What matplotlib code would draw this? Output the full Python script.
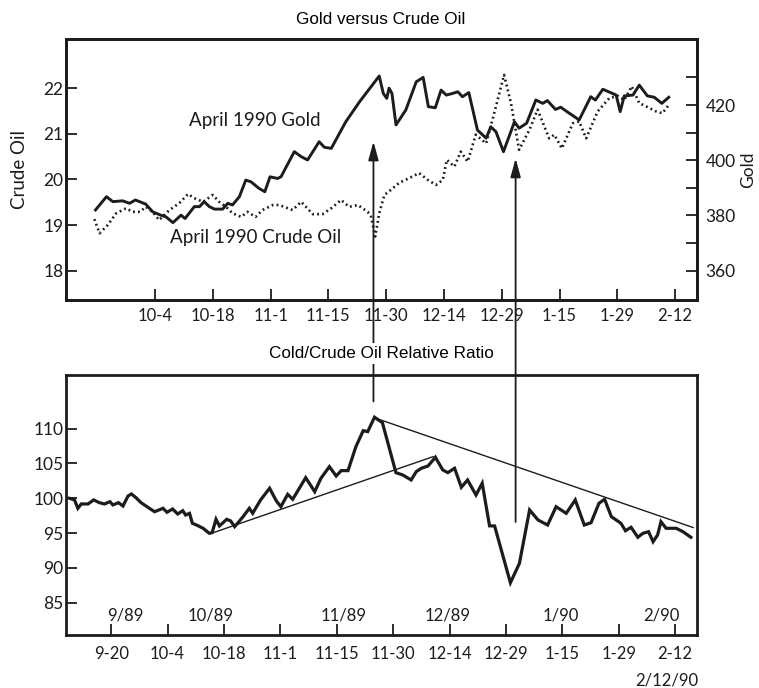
import matplotlib
matplotlib.use("Agg")
import matplotlib.pyplot as plt
from matplotlib.patches import ConnectionPatch, ArrowStyle
from matplotlib.transforms import blended_transform_factory

# ---------------- data (x in trading-day units, tick every 10 days) ----------------
top_tick_pos = [10, 20, 30, 40, 50, 60, 70, 80, 90, 100]
top_tick_labels = ["10-4", "10-18", "11-1", "11-15", "11-30", "12-14", "12-29", "1-15", "1-29", "2-12"]

bot_tick_pos = [0, 10, 20, 30, 40, 50, 60, 70, 80, 90, 100]
bot_tick_labels = ["9-20", "10-4", "10-18", "11-1", "11-15", "11-30", "12-14", "12-29", "1-15", "1-29", "2-12"]

month_label_x = [2.5, 17.7, 41.3, 59.7, 79.8, 97.5]
month_labels = ["9/89", "10/89", "11/89", "12/89", "1/90", "2/90"]

crude_ticks = [18, 19, 20, 21, 22]
gold_major_ticks = [360, 380, 400, 420]
gold_minor_ticks = [370, 390, 410, 430]
ratio_ticks = [85, 90, 95, 100, 105, 110]

gold_x = [-0.3, 1.6, 2.7, 4.4, 5.6, 6.6, 8.4, 9.6, 11.0, 11.9, 13.1, 14.5, 15.2, 16.8, 17.7,
          18.5, 19.4, 20.3, 21.7, 22.6, 23.4, 24.6, 25.7, 26.6, 28.0, 29.0, 29.9, 31.2, 31.8,
          34.1, 35.3, 36.4, 38.4, 39.3, 40.5, 43.0, 45.4, 48.8, 49.5, 50.1, 50.5, 51.0, 51.7,
          53.4, 55.2, 56.4, 57.3, 58.5, 59.5, 60.4, 61.5, 62.4, 63.2, 64.3, 65.8, 67.3, 68.1,
          69.0, 70.3, 72.2, 73.0, 74.3, 75.9, 77.1, 77.9, 79.3, 80.2, 81.7, 83.4, 85.4, 86.2,
          87.5, 89.8, 90.5, 91.2, 92.7, 93.8, 95.2, 96.4, 97.7, 98.9]
gold = [382.0, 386.8, 385.0, 385.3, 384.4, 385.6, 384.1, 381.3, 380.1, 379.5, 377.4, 380.1, 378.9,
        383.2, 383.2, 385.0, 383.2, 382.3, 382.3, 384.4, 383.8, 386.8, 392.8, 392.2, 389.8, 388.6,
        394.0, 393.4, 394.0, 403.1, 401.3, 400.1, 406.7, 404.7, 404.3, 413.9, 421.2, 430.5, 424.2,
        422.4, 426.1, 424.2, 412.8, 418.2, 428.4, 430.0, 419.4, 419.0, 425.4, 423.6, 424.2, 424.8,
        423.0, 424.5, 410.9, 408.0, 412.1, 410.3, 403.1, 413.9, 411.6, 413.4, 421.8, 420.6, 421.6,
        418.4, 419.2, 417.0, 414.6, 423.0, 421.8, 425.7, 423.6, 417.6, 423.3, 423.6, 427.2, 423.3,
        422.8, 420.6, 422.8]

crude_x = [-0.5, 0.4, 1.8, 3.3, 5.0, 6.1, 7.4, 8.4, 9.6, 10.7, 12.5, 14.2, 15.7, 16.8, 18.3,
           20.0, 21.1, 22.3, 23.4, 24.9, 26.0, 27.4, 28.6, 30.4, 31.5, 33.8, 35.3, 37.3, 39.0,
           40.5, 42.2, 43.6, 45.1, 46.8, 47.4, 48.1, 48.8, 49.7, 50.8, 52.3, 54.0, 55.7, 57.2,
           58.6, 59.8, 60.5, 61.8, 62.9, 64.1, 65.5, 67.3, 69.0, 70.4, 71.6, 73.0, 74.8, 76.2,
           78.2, 79.1, 80.4, 82.3, 83.4, 84.6, 86.6, 88.6, 90.1, 91.2, 92.5, 93.8, 95.0, 96.7,
           97.8, 98.9]
crude = [19.13, 18.82, 19.00, 19.26, 19.37, 19.29, 19.29, 19.40, 19.29, 19.11, 19.33, 19.48, 19.68,
         19.59, 19.51, 19.66, 19.51, 19.40, 19.26, 19.18, 19.29, 19.18, 19.33, 19.44, 19.44, 19.33,
         19.51, 19.24, 19.24, 19.37, 19.55, 19.40, 19.44, 19.29, 19.18, 18.75, 19.26, 19.66, 19.77,
         19.93, 20.03, 20.14, 19.99, 19.88, 19.99, 20.43, 20.28, 20.61, 20.39, 20.98, 20.79, 21.60,
         22.29, 21.67, 20.65, 21.09, 21.53, 20.90, 20.98, 20.68, 21.23, 21.27, 20.90, 21.49, 21.78,
         21.83, 21.74, 22.04, 21.67, 21.60, 21.49, 21.45, 21.63]

ratio_x = [-7.4, -6.5, -5.9, -5.3, -4.1, -3.1, -2.1, -1.2, -0.2, 0.3, 1.3, 2.1, 3.0, 3.6, 4.4,
           5.3, 6.5, 7.7, 9.2, 9.9, 10.9, 11.8, 12.7, 13.2, 13.9, 14.4, 15.4, 16.3, 17.4, 17.9,
           18.6, 19.2, 20.5, 21.2, 21.9, 23.4, 24.5, 25.1, 26.5, 28.1, 29.3, 30.1, 31.3, 32.2,
           34.5, 36.1, 37.2, 38.7, 39.9, 40.8, 42.0, 43.4, 44.7, 45.5, 46.7, 48.1, 50.5, 51.7,
           53.2, 54.1, 55.0, 56.2, 57.5, 58.8, 59.7, 60.9, 62.1, 63.2, 64.7, 65.8, 67.1, 68.0,
           70.8, 72.4, 74.2, 75.7, 77.4, 78.9, 80.7, 82.3, 83.9, 85.1, 86.5, 87.5, 88.7, 90.4,
           91.2, 92.2, 93.4, 94.3, 95.3, 96.1, 96.9, 97.5, 98.4, 100.2, 101.4, 102.8]
ratio = [100.0, 99.76, 98.56, 99.18, 99.18, 99.76, 99.37, 99.18, 99.51, 99.04, 99.37, 98.89,
         100.33, 100.62, 100.09, 99.37, 98.71, 98.07, 98.56, 97.99, 98.46, 97.74, 98.22, 97.60,
         97.84, 96.41, 96.06, 95.69, 94.97, 95.06, 96.98, 96.02, 96.98, 96.74, 95.92, 97.36,
         98.56, 97.84, 99.76, 101.44, 99.61, 98.79, 100.57, 99.86, 102.96, 100.95, 102.87, 104.54,
         103.20, 103.97, 103.97, 107.41, 109.71, 109.57, 111.64, 110.86, 103.68, 103.35, 102.63,
         103.82, 104.31, 104.64, 105.89, 104.07, 103.68, 104.31, 101.58, 102.63, 100.47, 102.16,
         96.04, 96.02, 87.87, 90.66, 98.32, 96.88, 96.16, 98.79, 97.84, 99.76, 96.16, 96.49,
         99.28, 99.86, 97.36, 96.41, 95.34, 95.83, 94.40, 94.97, 95.20, 93.76, 94.73, 96.64,
         95.69, 95.69, 95.20, 94.40]

support_x = [17.8, 57.1]
support_y = [94.97, 105.98]
resist_x = [47.25, 103.2]
resist_y = [111.4, 95.8]

# arrows: x in top-panel units, tip in crude units, foot in ratio units
arrow_x = [47.8, 72.4]
arrow_tip = [20.83, 20.46]
arrow_foot = [113.9, 96.6]

# ---------------- drawing ----------------
INK = "#1c1c1c"
TF = "Lato"
TITLEF = "Liberation Sans"

fig = plt.figure(figsize=(7.59, 6.88), dpi=100)

ax1 = fig.add_axes([0.087, 0.564, 0.8314, 0.3789])
ax1.set_xlim(-5.4, 103.8)
ax1.set_ylim(17.36, 23.07)
ax1.plot(crude_x, crude, color=INK, lw=1.9, ls=(0, (0.7, 1.2)))
ax1g = ax1.twinx()
ax1g.set_ylim(349.4, 443.8)
ax1g.plot(gold_x, gold, color=INK, lw=2.1)

ax1.set_xticks(top_tick_pos)
ax1.set_xticklabels(top_tick_labels, fontfamily=TF, fontsize=12, color=INK)
ax1.set_yticks(crude_ticks)
ax1.set_yticklabels([str(v) for v in crude_ticks], fontfamily=TF, fontsize=12.5, color=INK)
ax1.tick_params(axis="x", direction="in", length=8, width=1.3, pad=6, colors=INK)
ax1.tick_params(axis="y", direction="in", length=8, width=1.3, pad=2, colors=INK)
ax1g.set_yticks(gold_major_ticks)
ax1g.set_yticks(gold_minor_ticks, minor=True)
ax1g.set_yticklabels([str(v) for v in gold_major_ticks], fontfamily=TF, fontsize=12.5, color=INK)
ax1g.tick_params(axis="y", which="both", direction="in", length=8, width=1.3, pad=6, colors=INK)

ax1.set_ylabel("Crude Oil", fontfamily=TF, fontsize=13.5, color=INK)
ax1.yaxis.set_label_coords(-0.060, 0.5)
ax1g.set_ylabel("Gold", fontfamily=TF, fontsize=12.5, color=INK)
ax1g.yaxis.set_label_coords(1.068, 0.5)

for ax in (ax1, ax1g):
    for s in ax.spines.values():
        s.set_linewidth(2.0)
        s.set_color(INK)

ax1.text(27.3, 21.30, "April 1990 Gold", fontfamily=TF, fontsize=13.5, color=INK,
         ha="center", va="center")
ax1.text(27.4, 18.72, "April 1990 Crude Oil", fontfamily=TF, fontsize=13.5, color=INK,
         ha="center", va="center")

ax2 = fig.add_axes([0.087, 0.077, 0.8314, 0.3779])
ax2.set_xlim(-8.0, 103.9)
ax2.set_ylim(80.36, 117.7)
ax2.plot(ratio_x, ratio, color=INK, lw=2.3, solid_joinstyle="miter")
ax2.plot(support_x, support_y, color=INK, lw=1.0)
ax2.plot(resist_x, resist_y, color=INK, lw=1.0)
ax2.set_xticks(bot_tick_pos)
ax2.set_xticklabels(bot_tick_labels, fontfamily=TF, fontsize=12, color=INK)
ax2.set_yticks(ratio_ticks)
ax2.set_yticklabels([str(v) for v in ratio_ticks], fontfamily=TF, fontsize=12.5, color=INK)
ax2.tick_params(axis="x", direction="in", length=8, width=1.3, pad=8, colors=INK)
ax2.tick_params(axis="y", direction="in", length=8, width=1.3, pad=2, colors=INK)
for s in ax2.spines.values():
    s.set_linewidth(2.0)
    s.set_color(INK)

btr = blended_transform_factory(ax2.transData, ax2.transAxes)
for mx, ml in zip(month_label_x, month_labels):
    ax2.text(mx, 0.077, ml, transform=btr, fontfamily=TF, fontsize=12, color=INK,
             ha="center", va="center")

fig.text(0.879, 0.0116, "2/12/90", fontfamily=TF, fontsize=12, color=INK, ha="center", va="center")

fig.text(0.502, 0.971, "Gold versus Crude Oil", fontfamily=TITLEF, fontsize=12.3,
         color="black", ha="center", va="center")
fig.text(0.502, 0.4865, "Cold/Crude Oil Relative Ratio", fontfamily=TITLEF, fontsize=12.3,
         color="black", ha="center", va="center", zorder=5,
         bbox=dict(facecolor="white", edgecolor="none", pad=2))

cross = blended_transform_factory(ax1.transData, ax2.transData)
astyle = ArrowStyle("<|-", head_length=0.8, head_width=0.22)
for xa, yt, yf in zip(arrow_x, arrow_tip, arrow_foot):
    cp = ConnectionPatch(xyA=(xa, yt), coordsA=ax1.transData, xyB=(xa, yf), coordsB=cross,
                         arrowstyle=astyle, shrinkA=0, shrinkB=0, mutation_scale=14,
                         lw=1.3, color=INK, zorder=1)
    fig.add_artist(cp)

fig.savefig("out.png", dpi=100)
